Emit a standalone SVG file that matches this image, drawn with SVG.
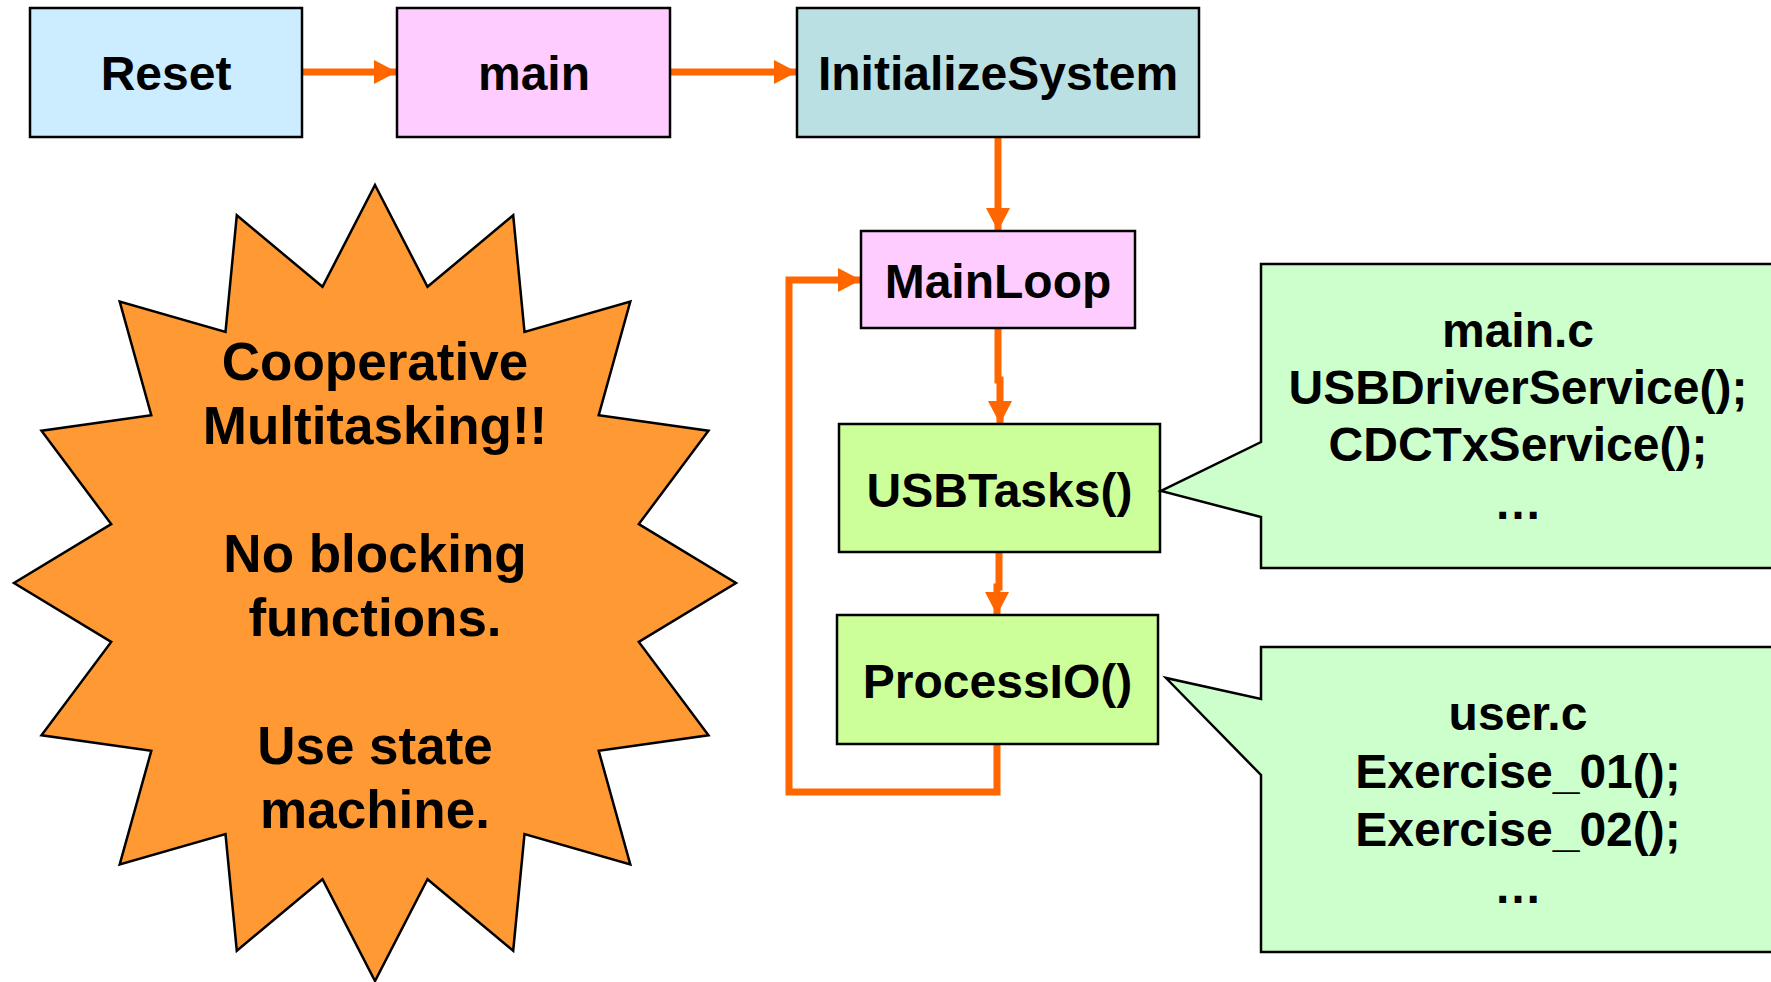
<svg xmlns="http://www.w3.org/2000/svg" width="1771" height="982" viewBox="0 0 1771 982">
<style>
.box{stroke:#000;stroke-width:2.5}
.lbl{font-family:"Liberation Sans",Arial,sans-serif;font-weight:bold;font-size:48px;text-anchor:middle;fill:#000}
.star{font-size:53px}
.conn{fill:none;stroke:#FF6600;stroke-width:7;stroke-linejoin:miter;stroke-linecap:butt}
.callout{fill:#CCFFCC;stroke:#000;stroke-width:2.5}
</style>
<defs>
<marker id="arr" viewBox="0 0 23 24" refX="23" refY="12" markerWidth="23" markerHeight="24" markerUnits="userSpaceOnUse" orient="auto">
<path d="M0,0 L23,12 L0,24 z" fill="#FF6600"/>
</marker>
</defs>
<rect width="1771" height="982" fill="#fff"/>

<g id="starburst">
<polygon fill="#FF9933" stroke="#000" stroke-width="2.5" points="375,185 427.5,286.8 513.2,215.3 524.5,331.9 630.3,301.6 598.7,415.2 708.5,430.7 638.8,524.1 736,583 638.8,641.9 708.5,735.3 598.7,750.8 630.3,864.4 524.5,834.1 513.2,950.7 427.5,879.2 375,981 322.5,879.2 236.8,950.7 225.5,834.1 119.7,864.4 151.3,750.8 41.5,735.3 111.2,641.9 14,583 111.2,524.1 41.5,430.7 151.3,415.2 119.7,301.6 225.5,331.9 236.8,215.3 322.5,286.8"/>
<text class="lbl star" x="375" y="380">Cooperative</text>
<text class="lbl star" x="375" y="444">Multitasking!!</text>
<text class="lbl star" x="375" y="572">No blocking</text>
<text class="lbl star" x="375" y="636">functions.</text>
<text class="lbl star" x="375" y="764">Use state</text>
<text class="lbl star" x="375" y="828">machine.</text>
</g>

<g id="connectors">
<path class="conn" d="M302,72 H397" marker-end="url(#arr)"/>
<path class="conn" d="M670,72 H797" marker-end="url(#arr)"/>
<path class="conn" d="M998,137 V231" marker-end="url(#arr)"/>
<path class="conn" d="M998,328 V380 H1000 V424" marker-end="url(#arr)"/>
<path class="conn" d="M999,552 V587 H997 V615" marker-end="url(#arr)"/>
<path class="conn" d="M997,744 V792 H789 V280 H861" marker-end="url(#arr)"/>
</g>

<g id="reset">
<rect class="box" x="30" y="8" width="272" height="129" fill="#CCECFF"/>
<text class="lbl" x="166" y="90">Reset</text>
</g>
<g id="main">
<rect class="box" x="397" y="8" width="273" height="129" fill="#FFCCFF"/>
<text class="lbl" x="534" y="90">main</text>
</g>
<g id="initializesystem">
<rect class="box" x="797" y="8" width="402" height="129" fill="#BBE0E3"/>
<text class="lbl" x="998" y="90">InitializeSystem</text>
</g>
<g id="mainloop">
<rect class="box" x="861" y="231" width="274" height="97" fill="#FFCCFF"/>
<text class="lbl" x="998" y="298">MainLoop</text>
</g>
<g id="usbtasks">
<rect class="box" x="839" y="424" width="321" height="128" fill="#CCFF99"/>
<text class="lbl" x="999.5" y="507">USBTasks()</text>
</g>
<g id="processio">
<rect class="box" x="837" y="615" width="321" height="129" fill="#CCFF99"/>
<text class="lbl" x="997.5" y="698">ProcessIO()</text>
</g>

<g id="callout-main">
<polygon class="callout" points="1261,264 1790,264 1790,568 1261,568 1261,517 1161,491 1261,442"/>
<text class="lbl" x="1518" y="347">main.c</text>
<text class="lbl" x="1518" y="404">USBDriverService();</text>
<text class="lbl" x="1518" y="461">CDCTxService();</text>
<text class="lbl" x="1518" y="519">…</text>
</g>
<g id="callout-user">
<polygon class="callout" points="1261,647 1790,647 1790,952 1261,952 1261,775 1166,678 1261,699"/>
<text class="lbl" x="1518" y="730">user.c</text>
<text class="lbl" x="1518" y="788">Exercise_01();</text>
<text class="lbl" x="1518" y="846">Exercise_02();</text>
<text class="lbl" x="1518" y="903">…</text>
</g>
</svg>
